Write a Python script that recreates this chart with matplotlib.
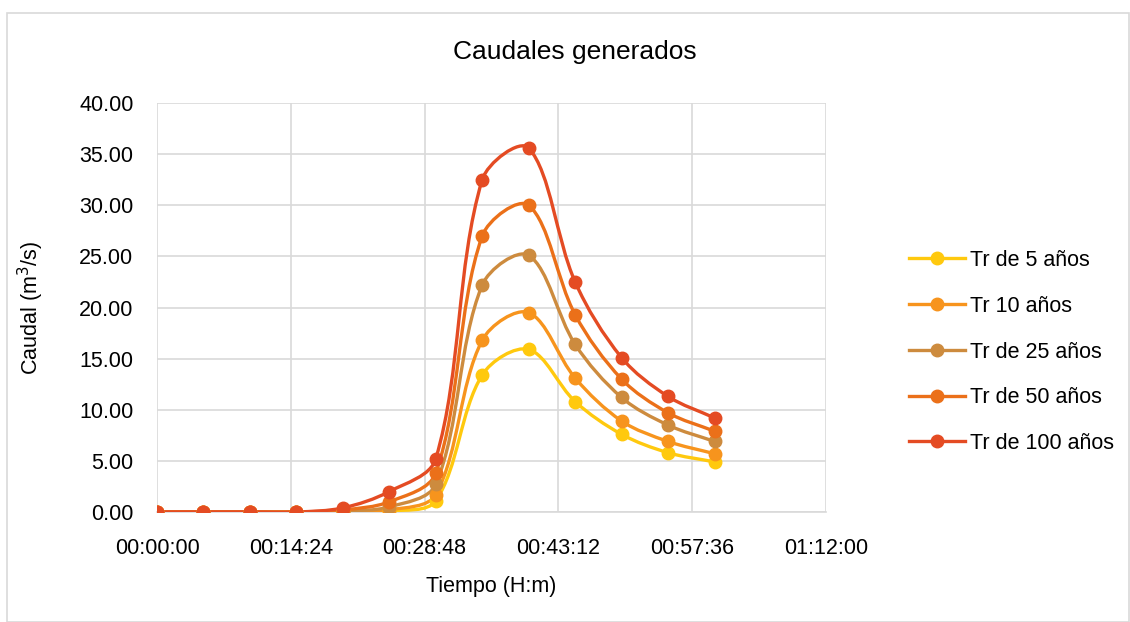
import matplotlib
matplotlib.use('Agg')
import numpy as np
import matplotlib.pyplot as plt
from matplotlib.path import Path
from matplotlib.patches import PathPatch, Rectangle
from matplotlib.lines import Line2D
from matplotlib.ticker import FixedLocator, FuncFormatter

# time in minutes
minutes = [0, 5, 10, 15, 20, 25, 30, 35, 40, 45, 50, 55, 60]
series_names = ['Tr de 5 años', 'Tr 10 años', 'Tr de 25 años', 'Tr de 50 años', 'Tr de 100 años']
q_5 = [0, 0, 0, 0, 0.05, 0.1, 1.1, 13.4, 15.9, 10.8, 7.6, 5.8, 4.9]
q_10 = [0, 0, 0, 0, 0.05, 0.2, 1.7, 16.8, 19.5, 13.1, 8.9, 6.9, 5.7]
q_25 = [0, 0, 0, 0, 0.1, 0.5, 2.7, 22.2, 25.1, 16.4, 11.2, 8.5, 6.9]
q_50 = [0, 0, 0, 0, 0.2, 1.0, 3.8, 27.0, 30.0, 19.3, 13.0, 9.7, 7.9]
q_100 = [0, 0, 0, 0, 0.4, 2.0, 5.2, 32.5, 35.6, 22.5, 15.1, 11.3, 9.2]
colors = ['#FFC90E', '#F7941D', '#CD8B3E', '#EB7019', '#E44B23']

plt.rcParams['font.family'] = ['Liberation Sans', 'DejaVu Sans']


def smooth_path(ax, xs, ys):
    # Excel-like smoothed line, built as cubic Bezier segments in display space
    pts = ax.transData.transform(np.column_stack([xs, ys]))
    n = len(pts)
    verts = [pts[0]]
    codes = [Path.MOVETO]
    for i in range(n - 1):
        p0 = pts[i - 1] if i > 0 else pts[i]
        p1 = pts[i]
        p2 = pts[i + 1]
        p3 = pts[i + 2] if i + 2 < n else pts[i + 1]
        d01 = np.hypot(*(p1 - p0))
        d12 = np.hypot(*(p2 - p1))
        d23 = np.hypot(*(p3 - p2))
        f1 = d12 / (3 * (d01 + d12)) if d01 + d12 > 0 else 0
        f2 = d12 / (3 * (d12 + d23)) if d12 + d23 > 0 else 0
        c1 = p1 + (p2 - p0) * f1
        c2 = p2 - (p3 - p1) * f2
        verts += [c1, c2, p2]
        codes += [Path.CURVE4] * 3
    verts = ax.transData.inverted().transform(np.array(verts))
    return Path(verts, codes)


fig = plt.figure(figsize=(11.3, 6.22), dpi=100)
ax = fig.add_axes([157 / 1130, 1 - 512 / 622, (826 - 157) / 1130, (512 - 103) / 622])
ax.set_xlim(0, 72)
ax.set_ylim(0, 40)

# outer chart border
fig.patches.append(Rectangle((7 / 1130, 0.0), 1122 / 1130, 1 - 13 / 622, transform=fig.transFigure,
                             fill=False, edgecolor='#D9D9D9', linewidth=1.2))

handles = []
for name, vals, col in zip(series_names, [q_5, q_10, q_25, q_50, q_100], colors):
    ax.add_patch(PathPatch(smooth_path(ax, minutes, vals), facecolor='none', edgecolor=col,
                           linewidth=2.4, capstyle='round', zorder=3))
    ax.plot(minutes, vals, linestyle='none', marker='o', markersize=9, color=col, zorder=4)
    handles.append(Line2D([0], [0], color=col, linewidth=2.4, marker='o', markersize=9))

ax.xaxis.set_major_locator(FixedLocator([0, 14.4, 28.8, 43.2, 57.6, 72]))


def fmt_time(v, pos):
    s = int(round(v * 60))
    return f'{s // 3600:02d}:{(s % 3600) // 60:02d}:{s % 60:02d}'


ax.xaxis.set_major_formatter(FuncFormatter(fmt_time))
ax.set_yticks(range(0, 41, 5))
ax.yaxis.set_major_formatter(FuncFormatter(lambda v, p: f'{v:.2f}'))
ax.grid(True, color='#D9D9D9', linewidth=1.2)
ax.set_axisbelow(True)
for s in ['top', 'right', 'left']:
    ax.spines[s].set_visible(False)
ax.spines['bottom'].set_color('#D9D9D9')
ax.spines['bottom'].set_linewidth(1.2)
ax.tick_params(length=0, labelsize=15.5)
ax.tick_params(axis='x', pad=19)
ax.tick_params(axis='y', pad=17)

ax.set_xlabel('Tiempo (H:m)', fontsize=15.5, labelpad=12)
ax.set_ylabel('Caudal (m$^3$/s)', fontsize=15.5, labelpad=24)
fig.text(575 / 1130, 1 - 52 / 622, 'Caudales generados', fontsize=19, ha='center', va='center')

fig.legend(handles, series_names, loc='center left', bbox_to_anchor=(890 / 1130, 1 - 352 / 622),
           frameon=False, fontsize=15.5, handlelength=2.6, handletextpad=0.2, labelspacing=1.15)

fig.savefig('out.png', dpi=100)
